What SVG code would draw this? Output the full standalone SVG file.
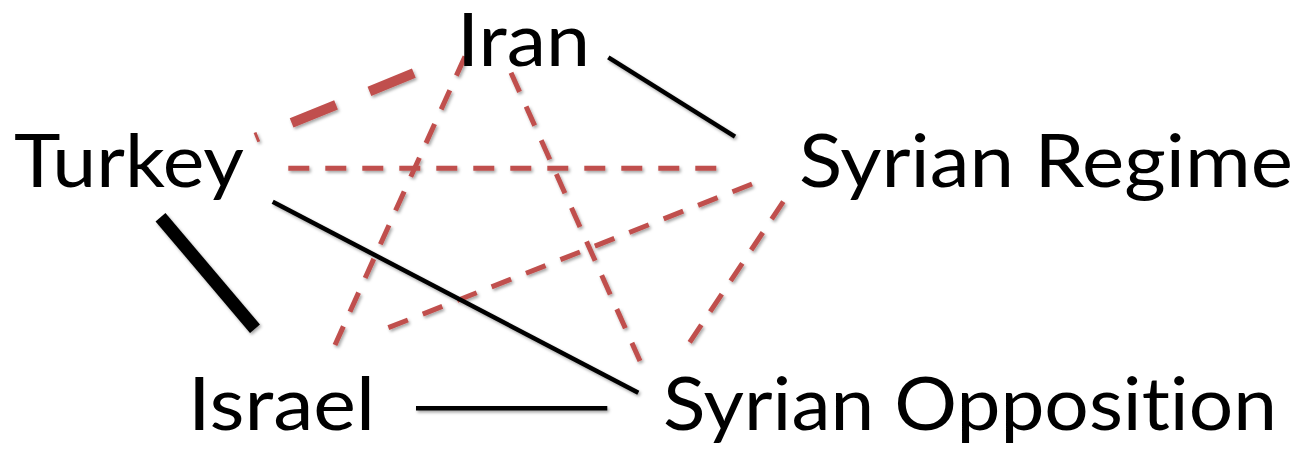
<svg xmlns="http://www.w3.org/2000/svg" width="1296" height="449" viewBox="0 0 1296 449">
<defs>
<filter id="shadow" x="-10%" y="-10%" width="120%" height="120%">
<feDropShadow dx="1.5" dy="2" stdDeviation="1.5" flood-color="#000" flood-opacity="0.35"/>
</filter>
<style>
.label{font-family:Lato,"Open Sans","Liberation Sans",sans-serif;font-size:74px;fill:#000;font-variant-ligatures:none;font-feature-settings:"liga" 0,"clig" 0;}
.pos{stroke:#000;stroke-width:4.5;fill:none;stroke-linecap:butt;}
.strong{stroke:#000;stroke-width:13;fill:none;}
.neg{stroke:#C0504D;stroke-width:5;fill:none;stroke-dasharray:21 16;}
.negstrong{stroke:#C0504D;stroke-width:10;fill:none;stroke-dasharray:48 36;stroke-dashoffset:45;}
</style>
</defs>
<rect width="1296" height="449" fill="#fff"/>
<g id="connectors" filter="url(#shadow)">
<line class="negstrong" x1="255.5" y1="137.7" x2="416" y2="72.3"/>
<line class="neg" x1="288.3" y1="168.3" x2="720" y2="168.3"/>
<line class="neg" x1="465" y1="56.5" x2="335" y2="345"/>
<line class="neg" x1="511" y1="72.7" x2="640" y2="361"/>
<line class="neg" x1="752" y1="184" x2="385" y2="329"/>
<line class="neg" x1="783.3" y1="201.7" x2="689.3" y2="343"/>
<line class="pos" x1="608.3" y1="57.3" x2="735" y2="136.7"/>
<line class="pos" x1="272.7" y1="201.7" x2="638.3" y2="392.7"/>
<line class="pos" x1="416" y1="408.3" x2="607.3" y2="408.3"/>
<line class="strong" x1="160.5" y1="217.2" x2="255" y2="328.7"/>
</g>
<g id="node-iran"><text class="label" x="457" y="66" textLength="133" lengthAdjust="spacingAndGlyphs">Iran</text></g>
<g id="node-turkey"><text class="label" x="14" y="187" textLength="230" lengthAdjust="spacingAndGlyphs">Turkey</text></g>
<g id="node-syrian-regime"><text class="label" x="799" y="187" textLength="494" lengthAdjust="spacingAndGlyphs">Syrian Regime</text></g>
<g id="node-israel"><text class="label" x="188" y="430" textLength="187" lengthAdjust="spacingAndGlyphs">Israel</text></g>
<g id="node-syrian-opposition"><text class="label" x="663" y="430" textLength="614" lengthAdjust="spacingAndGlyphs">Syrian Opposition</text></g>
</svg>
